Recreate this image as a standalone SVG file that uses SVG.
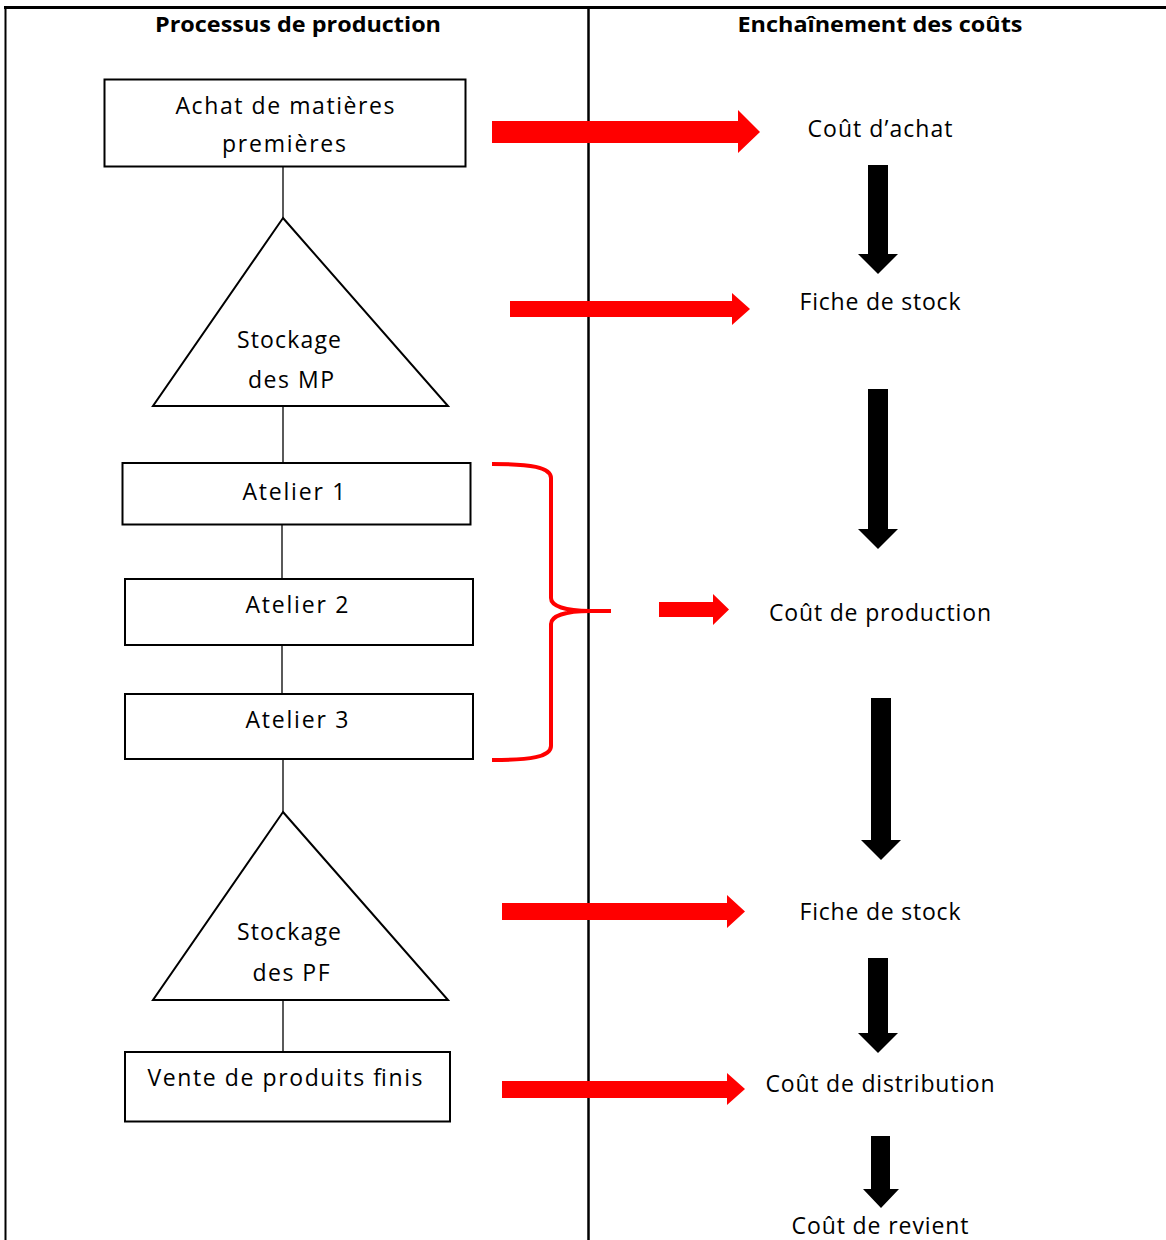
<svg xmlns="http://www.w3.org/2000/svg" width="1166" height="1240" viewBox="0 0 1166 1240">
<style>
.box{fill:#fff;stroke:#000;stroke-width:2}
.ln{stroke:#000;stroke-width:1.3;fill:none}
.t{font-family:"Open Sans","Liberation Sans",sans-serif;font-size:23px;fill:#000;text-anchor:middle}
.h{font-family:"Open Sans","Liberation Sans",sans-serif;font-size:22px;font-weight:bold;fill:#000;text-anchor:middle}
.red{fill:#ff0000}
.blk{fill:#000}
</style>
<rect width="1166" height="1240" fill="#fff"/>
<g id="frame">
<line x1="4" y1="7.5" x2="1166" y2="7.5" stroke="#000" stroke-width="3"/>
<line x1="5.5" y1="6" x2="5.5" y2="1240" stroke="#000" stroke-width="2"/>
<line x1="588.5" y1="7" x2="588.5" y2="1240" stroke="#000" stroke-width="2.5"/>
<text class="h" x="298" y="32" textLength="286" lengthAdjust="spacingAndGlyphs">Processus de production</text>
<text class="h" x="880" y="32" textLength="285" lengthAdjust="spacingAndGlyphs">Enchaînement des coûts</text>
</g>
<g id="connectors">
<line class="ln" x1="283" y1="166" x2="283" y2="218"/>
<line class="ln" x1="283" y1="406" x2="283" y2="463"/>
<line class="ln" x1="282" y1="524" x2="282" y2="579"/>
<line class="ln" x1="282" y1="645" x2="282" y2="694"/>
<line class="ln" x1="283" y1="759" x2="283" y2="812"/>
<line class="ln" x1="283" y1="1000" x2="283" y2="1052"/>
<polygon class="red" points="492,121 738,121 738,110 760,132 738,153 738,143 492,143"/>
<polygon class="red" points="510,301 732,301 732,293 750,309 732,325 732,317 510,317"/>
<polygon class="red" points="659,602 713,602 713,594 729,609.5 713,625 713,617 659,617"/>
<polygon class="red" points="502,903 727,903 727,895 745,911.5 727,928 727,920 502,920"/>
<polygon class="red" points="502,1081 727,1081 727,1073 745,1089 727,1105 727,1098 502,1098"/>
<path d="M492,464 C530,464 551,467 551,478 L551,598 C551,606 565,611 590,611 L611,611 M590,611 C565,611 551,616 551,624 L551,746 C551,757 530,760 492,760" fill="none" stroke="#ff0000" stroke-width="4"/>
<polygon class="blk" points="868,165 888,165 888,254 898,254 878,274 858,254 868,254"/>
<polygon class="blk" points="868,389 888,389 888,529 898,529 878,549 858,529 868,529"/>
<polygon class="blk" points="871,698 891,698 891,840 901,840 881,860 861,840 871,840"/>
<polygon class="blk" points="868,958 888,958 888,1033 898,1033 878,1053 858,1033 868,1033"/>
<polygon class="blk" points="871,1136 890,1136 890,1189 899,1189 881,1208 863,1189 871,1189"/>
</g>
<g id="achat">
<rect class="box" x="104.5" y="79.5" width="361" height="87"/>
<text class="t" x="285" y="114" textLength="219" lengthAdjust="spacing">Achat de matières</text>
<text class="t" x="284" y="152" textLength="124" lengthAdjust="spacing">premières</text>
</g>
<g id="stockage-mp">
<polygon class="box" points="283,218 448,406 153,406"/>
<text class="t" x="289" y="348" textLength="104" lengthAdjust="spacing">Stockage</text>
<text class="t" x="291" y="388" textLength="86" lengthAdjust="spacing">des MP</text>
</g>
<g id="atelier1">
<rect class="box" x="122.5" y="463" width="348" height="61.5"/>
<text class="t" x="294" y="500" textLength="103" lengthAdjust="spacing">Atelier 1</text>
</g>
<g id="atelier2">
<rect class="box" x="125" y="579" width="348" height="66"/>
<text class="t" x="297" y="613" textLength="103" lengthAdjust="spacing">Atelier 2</text>
</g>
<g id="atelier3">
<rect class="box" x="125" y="694" width="348" height="65"/>
<text class="t" x="297" y="728" textLength="103" lengthAdjust="spacing">Atelier 3</text>
</g>
<g id="stockage-pf">
<polygon class="box" points="283,812 448,1000 153,1000"/>
<text class="t" x="289" y="940" textLength="104" lengthAdjust="spacing">Stockage</text>
<text class="t" x="291" y="981" textLength="77" lengthAdjust="spacing">des PF</text>
</g>
<g id="vente">
<rect class="box" x="125" y="1052" width="325" height="69.5"/>
<text class="t" x="285" y="1086" textLength="275" lengthAdjust="spacing">Vente de produits finis</text>
</g>
<g id="cout-achat"><text class="t" x="880" y="137" textLength="145" lengthAdjust="spacing">Coût d’achat</text></g>
<g id="fiche-stock-1"><text class="t" x="880" y="310" textLength="161" lengthAdjust="spacing">Fiche de stock</text></g>
<g id="cout-production"><text class="t" x="880" y="621" textLength="222" lengthAdjust="spacing">Coût de production</text></g>
<g id="fiche-stock-2"><text class="t" x="880" y="920" textLength="161" lengthAdjust="spacing">Fiche de stock</text></g>
<g id="cout-distribution"><text class="t" x="880" y="1092" textLength="229" lengthAdjust="spacing">Coût de distribution</text></g>
<g id="cout-revient"><text class="t" x="880" y="1234" textLength="177" lengthAdjust="spacing">Coût de revient</text></g>
</svg>
